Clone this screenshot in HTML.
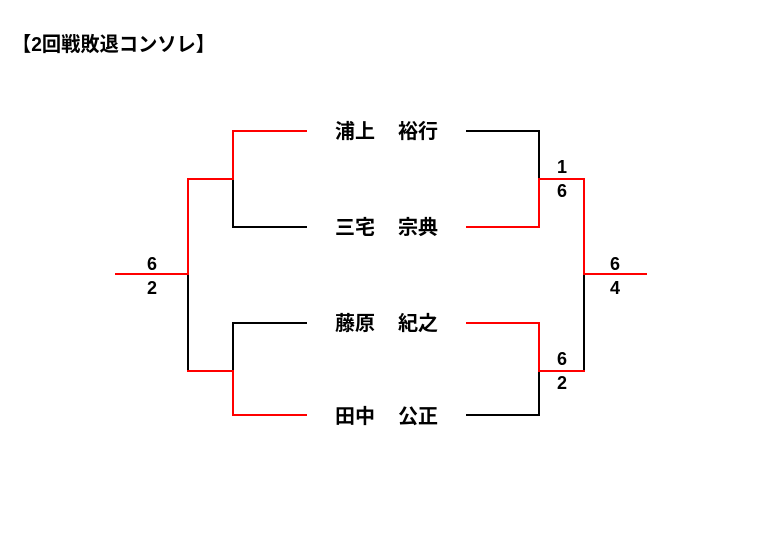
<!DOCTYPE html>
<html><head><meta charset="utf-8"><style>
body{margin:0;width:779px;height:541px;background:#fff;overflow:hidden}
svg text{font-family:"Liberation Sans","Noto Sans CJK JP",sans-serif;font-weight:bold;fill:#000}
</style></head><body>
<svg width="779" height="541" xmlns="http://www.w3.org/2000/svg">
<text x="12" y="51" font-size="20" textLength="203" lengthAdjust="spacingAndGlyphs">【2回戦敗退コンソレ】</text>
<g fill="none" stroke-width="2" stroke-linecap="square">
<path d="M306 131H233V179" stroke="#f00"/>
<path d="M233 179V227H306" stroke="#000"/>
<path d="M306 323H233V371" stroke="#000"/>
<path d="M233 371V415H306" stroke="#f00"/>
<path d="M233 179H188V274" stroke="#f00"/>
<path d="M188 274V371" stroke="#000"/>
<path d="M188 371H233" stroke="#f00"/>
<path d="M116 274H188" stroke="#f00"/>
<path d="M467 131H539V179" stroke="#000"/>
<path d="M539 179V227H467" stroke="#f00"/>
<path d="M467 323H539V371" stroke="#f00"/>
<path d="M539 371V415H467" stroke="#000"/>
<path d="M539 179H584V274" stroke="#f00"/>
<path d="M584 274V371" stroke="#000"/>
<path d="M584 371H539" stroke="#f00"/>
<path d="M584 274H646" stroke="#f00"/>
</g>
<g font-size="20">
<text x="335" y="138">浦上</text><text x="398" y="138">裕行</text>
<text x="335" y="234">三宅</text><text x="398" y="234">宗典</text>
<text x="335" y="330">藤原</text><text x="398" y="330">紀之</text>
<text x="335" y="423">田中</text><text x="398" y="423">公正</text>
</g>
<g font-size="18" text-anchor="middle" style="font-weight:normal">
<text x="152" y="270">6</text><text x="152" y="294">2</text>
<text x="562" y="173">1</text><text x="562" y="197">6</text>
<text x="562" y="365">6</text><text x="562" y="389">2</text>
<text x="615" y="270">6</text><text x="615" y="294">4</text>
</g>
</svg>
</body></html>
